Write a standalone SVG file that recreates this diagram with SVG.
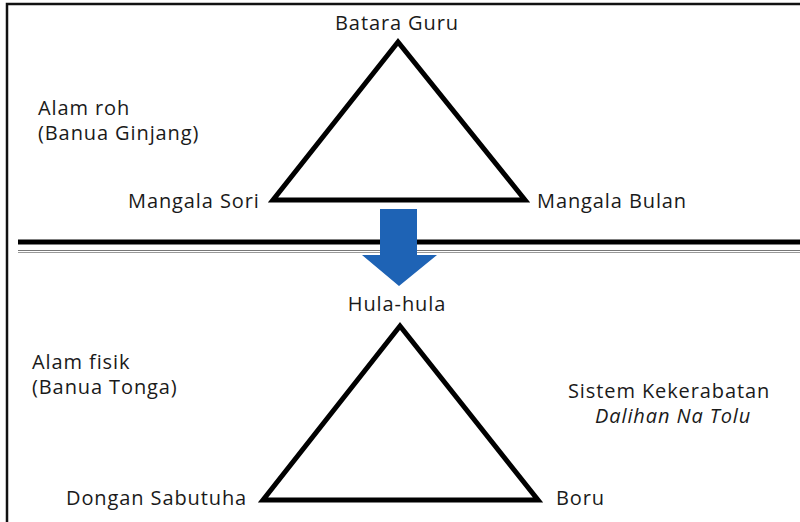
<svg xmlns="http://www.w3.org/2000/svg" width="800" height="522" viewBox="0 0 800 522">
<style>
text{font-family:"Open Sans","Noto Sans","Liberation Sans",sans-serif;font-size:20px;letter-spacing:0.9px;fill:#1a1a1a}
.tri{fill:none;stroke:#000;stroke-width:5;stroke-linejoin:miter}
.c{text-anchor:middle}
</style>
<rect width="800" height="522" fill="#fff"/>
<g id="frame"><path d="M7,522 V4 H800" fill="none" stroke="#111" stroke-width="2.5"/></g>
<g id="divider">
<line x1="18" y1="242" x2="800" y2="242" stroke="#000" stroke-width="5"/>
<line x1="18" y1="250.5" x2="800" y2="250.5" stroke="#777" stroke-width="1"/>
<line x1="18" y1="252.5" x2="800" y2="252.5" stroke="#999" stroke-width="1"/>
</g>
<g id="upper-triangle"><polygon class="tri" points="398,42 273,200 525,200"/></g>
<g id="lower-triangle"><polygon class="tri" points="400,326 263,500 538,500"/></g>
<g id="connectors"><polygon points="380,209 417,209 417,255 437,255 399,286 362,255 380,255" fill="#1e63b5"/></g>
<g id="labels">
<text class="c" x="397" y="30">Batara Guru</text>
<text x="38" y="115">Alam roh</text>
<text x="38" y="140">(Banua Ginjang)</text>
<text x="128" y="208">Mangala Sori</text>
<text x="537" y="208">Mangala Bulan</text>
<text class="c" x="397" y="311">Hula-hula</text>
<text x="32" y="369">Alam fisik</text>
<text x="32" y="394">(Banua Tonga)</text>
<text x="568" y="398">Sistem Kekerabatan</text>
<text x="595" y="423" font-style="italic">Dalihan Na Tolu</text>
<text x="66" y="505">Dongan Sabutuha</text>
<text x="556" y="505">Boru</text>
</g>
</svg>
